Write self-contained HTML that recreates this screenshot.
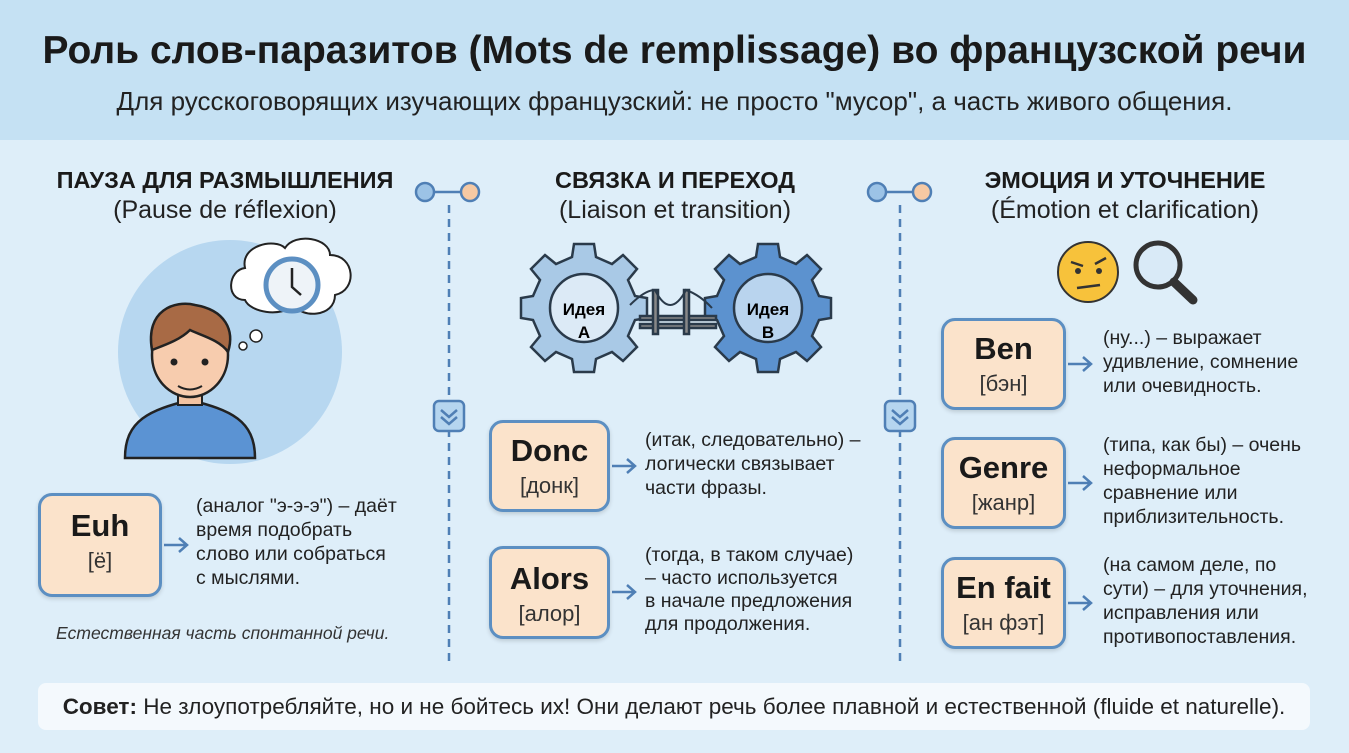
<!DOCTYPE html>
<html><head><meta charset="utf-8"><style>
*{margin:0;padding:0;box-sizing:border-box}
body{width:1349px;height:753px;overflow:hidden;background:#deeef9;font-family:"Liberation Sans",sans-serif;color:#1a1a1a;position:relative}
.abs{position:absolute}
.hdr{left:0;top:0;width:1349px;height:140px;background:#c5e1f3}
.t{left:0;width:1349px;text-align:center;white-space:nowrap}
.card{position:absolute;background:#fbe3cb;border:3px solid #5c8fc2;border-radius:14px;text-align:center;box-shadow:0 2px 4px rgba(0,0,0,.15)}
.card b{display:block;font-size:31px;margin-top:12px}
.card span{display:block;font-size:22px;color:#333;margin-top:4px}
.desc{position:absolute;font-size:19.5px;line-height:24px;color:#222;white-space:nowrap}
.h{font-size:23.5px;font-weight:bold;text-align:center;width:440px;white-space:nowrap}
.s{font-size:25px;text-align:center;width:440px;color:#222;white-space:nowrap}
</style></head><body>
<div class="abs hdr"></div>
<div class="abs t" style="top:29px;font-size:39px;font-weight:bold">Роль слов-паразитов (Mots de remplissage) во французской речи</div>
<div class="abs t" style="top:86px;font-size:26px;color:#222">Для русскоговорящих изучающих французский: не просто "мусор", а часть живого общения.</div>

<div class="abs h" style="left:5px;top:167px">ПАУЗА ДЛЯ РАЗМЫШЛЕНИЯ</div>
<div class="abs s" style="left:5px;top:196px">(Pause de réflexion)</div>
<div class="abs h" style="left:455px;top:167px">СВЯЗКА И ПЕРЕХОД</div>
<div class="abs s" style="left:455px;top:196px">(Liaison et transition)</div>
<div class="abs h" style="left:905px;top:167px">ЭМОЦИЯ И УТОЧНЕНИЕ</div>
<div class="abs s" style="left:905px;top:196px">(Émotion et clarification)</div>

<svg class="abs" style="left:0;top:0" width="1349" height="753">
<g stroke="#4f7fb5" stroke-width="2.5">
<line x1="449" y1="205" x2="449" y2="665" stroke-dasharray="8,6"/>
<line x1="900" y1="205" x2="900" y2="665" stroke-dasharray="8,6"/>
<line x1="425" y1="192" x2="470" y2="192"/><line x1="877" y1="192" x2="922" y2="192"/>
<circle cx="425" cy="192" r="9" fill="#9cc3e6"/><circle cx="470" cy="192" r="9" fill="#f6c9a3"/>
<circle cx="877" cy="192" r="9" fill="#9cc3e6"/><circle cx="922" cy="192" r="9" fill="#f6c9a3"/>
<rect x="434" y="401" width="30" height="30" rx="5" fill="#b5d5ef"/>
<rect x="885" y="401" width="30" height="30" rx="5" fill="#b5d5ef"/>
<polyline points="441,410 449,417 457,410" fill="none"/><polyline points="441,417 449,424 457,417" fill="none"/>
<polyline points="892,410 900,417 908,410" fill="none"/><polyline points="892,417 900,424 908,417" fill="none"/>
</g>
<!-- person -->
<circle cx="230" cy="352" r="112" fill="#b7d7f0"/>
<path d="M125,458 C125,420 150,410 190,400 C230,410 255,420 255,458 Z" fill="#5b93d3" stroke="#222" stroke-width="2.5"/>
<rect x="178" y="380" width="24" height="25" fill="#f3c3a2" stroke="#222" stroke-width="2"/>
<ellipse cx="190" cy="355" rx="38" ry="42" fill="#f7ccae" stroke="#222" stroke-width="2.5"/>
<path d="M152,350 C145,310 175,300 195,305 C225,310 235,330 228,352 C220,340 200,335 190,330 C180,340 165,345 152,350Z" fill="#a86a45" stroke="#222" stroke-width="2.5"/>
<circle cx="174" cy="362" r="3.5" fill="#222"/><circle cx="205" cy="362" r="3.5" fill="#222"/>
<path d="M178,386 Q190,393 202,386" fill="none" stroke="#222" stroke-width="2"/>
<circle cx="243" cy="346" r="4" fill="#fff" stroke="#222" stroke-width="1.5"/>
<circle cx="256" cy="336" r="6" fill="#fff" stroke="#222" stroke-width="1.5"/>
<path d="M245,300 C225,300 228,270 245,268 C240,245 275,238 285,248 C295,232 330,238 330,255 C355,255 358,290 335,295 C335,318 300,318 295,305 C280,318 250,312 245,300Z" fill="#fff" stroke="#222" stroke-width="2"/>
<circle cx="292" cy="285" r="26" fill="#eef3f8" stroke="#5c8fc2" stroke-width="5"/>
<path d="M292,268 V287 L301,295" fill="none" stroke="#222" stroke-width="2.5"/>
<!-- gears -->
<g stroke="#2a3a4a" stroke-width="2.5">
<g transform="translate(584,308)"><path fill="#a9c9e6" d="M-10,-55 H10 L12,-42 L28,-35 L39,-44 L53,-30 L44,-19 L51,-3 L63,-1 V19 L51,21 L44,37 L53,48 L39,62 L28,53 L12,60 L10,73 H-10 L-12,60 L-28,53 L-39,62 L-53,48 L-44,37 L-51,21 L-63,19 V-1 L-51,-3 L-44,-19 L-53,-30 L-39,-44 L-28,-35 L-12,-42Z" transform="translate(0,-9)"/><circle r="34" fill="#dceaf6"/></g>
<g transform="translate(768,308)"><path fill="#5c92cf" d="M-10,-55 H10 L12,-42 L28,-35 L39,-44 L53,-30 L44,-19 L51,-3 L63,-1 V19 L51,21 L44,37 L53,48 L39,62 L28,53 L12,60 L10,73 H-10 L-12,60 L-28,53 L-39,62 L-53,48 L-44,37 L-51,21 L-63,19 V-1 L-51,-3 L-44,-19 L-53,-30 L-39,-44 L-28,-35 L-12,-42Z" transform="translate(0,-9)"/><circle r="34" fill="#b9d4ee"/></g>
<g fill="#888"><rect x="640" y="316" width="76" height="4"/><rect x="640" y="324" width="76" height="4"/><rect x="653" y="290" width="5" height="44"/><rect x="684" y="290" width="5" height="44"/></g>
<path d="M630,305 Q645,290 655,290 Q670,320 686,290 Q700,295 712,308" fill="none" stroke-width="2"/>
</g>
<text x="584" y="315" font-size="17" font-weight="bold" text-anchor="middle" font-family="Liberation Sans">Идея</text>
<text x="584" y="338" font-size="17" font-weight="bold" text-anchor="middle" font-family="Liberation Sans">A</text>
<text x="768" y="315" font-size="17" font-weight="bold" text-anchor="middle" font-family="Liberation Sans">Идея</text>
<text x="768" y="338" font-size="17" font-weight="bold" text-anchor="middle" font-family="Liberation Sans">B</text>
<!-- emoji + magnifier -->
<circle cx="1088" cy="272" r="30" fill="#f7c23b" stroke="#333" stroke-width="2"/>
<path d="M1071,262 L1083,266 M1095,264 L1106,258" stroke="#333" stroke-width="2.5"/>
<circle cx="1078" cy="271" r="3" fill="#333"/><circle cx="1099" cy="271" r="3" fill="#333"/>
<path d="M1077,288 L1100,285" stroke="#333" stroke-width="2.5"/>
<circle cx="1158" cy="265" r="22" fill="#d9eaf7" stroke="#333" stroke-width="5"/>
<line x1="1174" y1="282" x2="1193" y2="300" stroke="#333" stroke-width="9" stroke-linecap="round"/>
<!-- arrows -->
<g stroke="#4f7fb5" stroke-width="2.5" fill="none">
<path d="M164,545 H186 M179,538 L187,545 L179,552"/>
<path d="M612,466 H634 M627,459 L635,466 L627,473"/>
<path d="M612,592 H634 M627,585 L635,592 L627,599"/>
<path d="M1068,364 H1090 M1083,357 L1091,364 L1083,371"/>
<path d="M1068,483 H1090 M1083,476 L1091,483 L1083,490"/>
<path d="M1068,603 H1090 M1083,596 L1091,603 L1083,610"/>
</g>
</svg>

<div class="card" style="left:38px;top:493px;width:124px;height:104px"><b>Euh</b><span>[ё]</span></div>
<div class="desc" style="left:196px;top:494px">(аналог "э-э-э") – даёт<br>время подобрать<br>слово или собраться<br>с мыслями.</div>
<div class="abs" style="left:56px;top:623px;font-size:17.5px;font-style:italic;color:#333">Естественная часть спонтанной речи.</div>

<div class="card" style="left:489px;top:420px;width:121px;height:92px"><b style="margin-top:10px">Donc</b><span>[донк]</span></div>
<div class="desc" style="left:645px;top:428px">(итак, следовательно) –<br>логически связывает<br>части фразы.</div>
<div class="card" style="left:489px;top:546px;width:121px;height:93px"><b style="margin-top:12px">Alors</b><span>[алор]</span></div>
<div class="desc" style="left:645px;top:544px;line-height:23px">(тогда, в таком случае)<br>– часто используется<br>в начале предложения<br>для продолжения.</div>

<div class="card" style="left:941px;top:318px;width:125px;height:92px"><b style="margin-top:10px">Ben</b><span>[бэн]</span></div>
<div class="desc" style="left:1103px;top:326px">(ну...) – выражает<br>удивление, сомнение<br>или очевидность.</div>
<div class="card" style="left:941px;top:437px;width:125px;height:92px"><b style="margin-top:10px">Genre</b><span>[жанр]</span></div>
<div class="desc" style="left:1103px;top:433px">(типа, как бы) – очень<br>неформальное<br>сравнение или<br>приблизительность.</div>
<div class="card" style="left:941px;top:557px;width:125px;height:92px"><b style="margin-top:10px">En fait</b><span>[ан фэт]</span></div>
<div class="desc" style="left:1103px;top:553px">(на самом деле, по<br>сути) – для уточнения,<br>исправления или<br>противопоставления.</div>

<div class="abs" style="left:38px;top:683px;width:1272px;height:47px;background:#f4f9fd;border-radius:8px;font-size:22.5px;line-height:47px;text-align:center;color:#222;white-space:nowrap"><b>Совет:</b> Не злоупотребляйте, но и не бойтесь их! Они делают речь более плавной и естественной (fluide et naturelle).</div>
</body></html>
